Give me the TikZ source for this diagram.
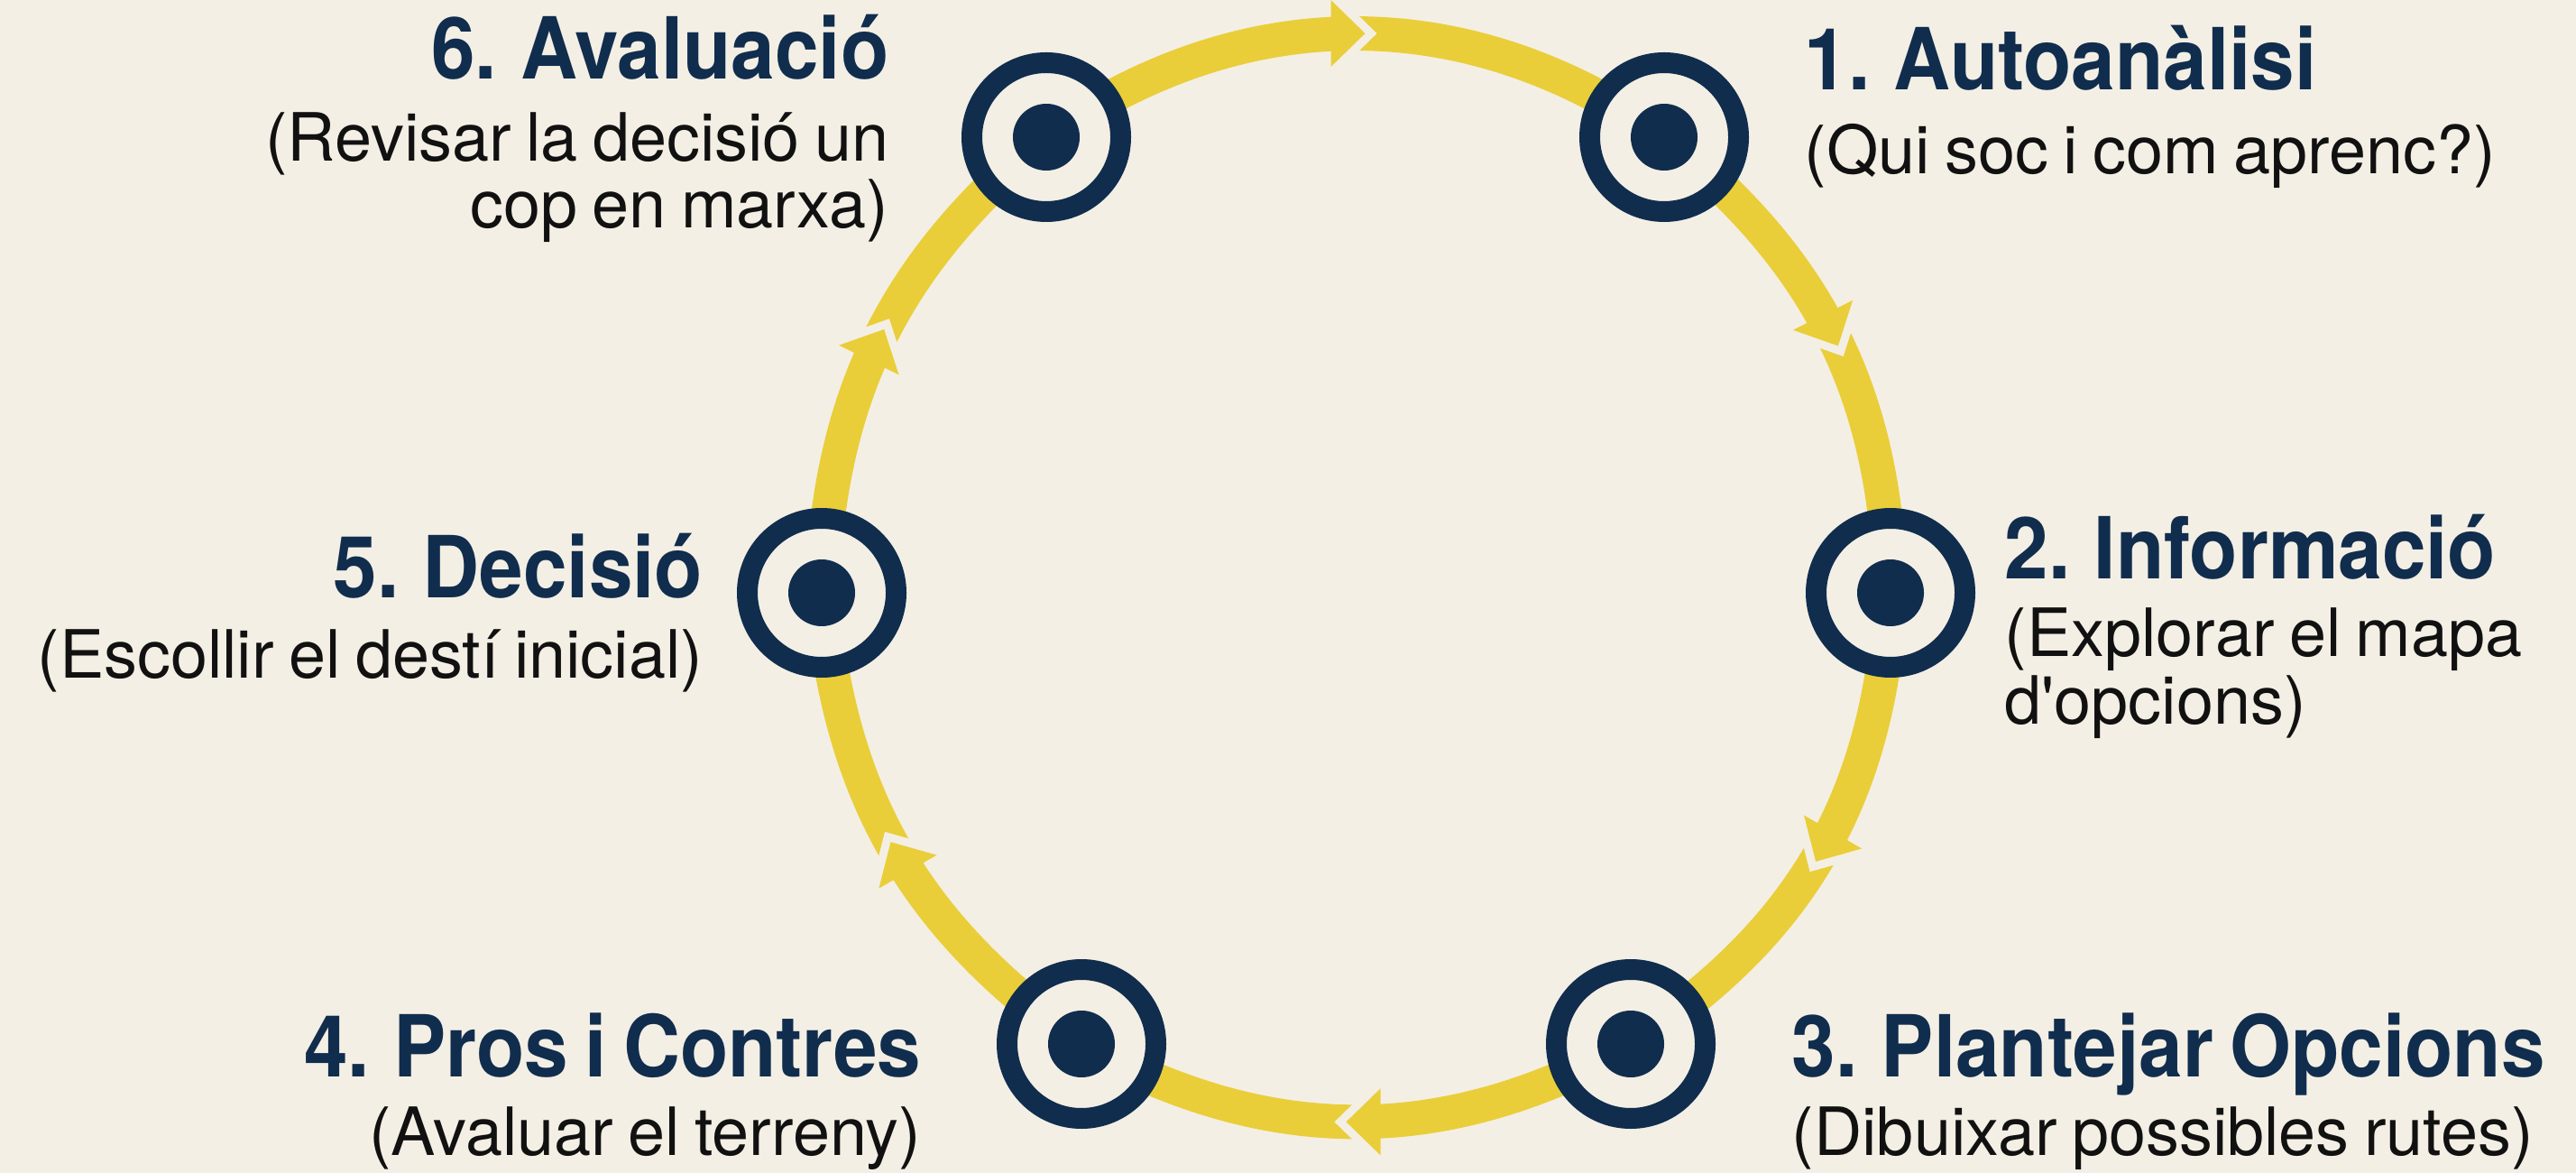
\documentclass[tikz,border=0pt]{standalone}
\usepackage{fontspec}
\setmainfont[WordSpace=0.8]{TeX Gyre Heros}
\newfontfamily\headfont[FakeStretch=0.92, WordSpace=0.75]{TeX Gyre Heros}
\usepackage{tikz}
\usetikzlibrary{positioning}
\usetikzlibrary{backgrounds}
\usetikzlibrary{decorations.markings}

\definecolor{paper}{RGB}{244,239,228}
\definecolor{navy}{RGB}{16,45,78}
\definecolor{gold}{RGB}{233,206,58}
\definecolor{ink}{RGB}{17,17,17}

\tikzset{
  stepnode/.style={circle, draw=navy, line width=0.23cm, fill=paper,
    minimum size=1.65cm, inner sep=0pt,
    path picture={\fill[navy] (path picture bounding box.center) circle (0.37);}},
  steptitle/.style={font=\headfont\fontsize{27}{31}\selectfont\bfseries, text=navy, inner sep=0pt},
  stepnote/.style={font=\fontsize{21}{21.3}\selectfont, text=ink, inner sep=0pt},
  track/.style={draw=gold, line width=0.38cm,
    postaction={decorate, decoration={markings, mark=at position #1 with {
      \fill[paper] (-0.14,0.37) -- (0.24,0) -- (-0.14,-0.37) -- cycle;
      \fill[gold] (-0.27,0.37) -- (0.11,0) -- (-0.27,-0.37) -- cycle;}}}},
  track/.default=0.5
}

\begin{document}
\begin{tikzpicture}
\useasboundingbox (0,0) rectangle (28.56,-13.00);

% the six steps
\node[stepnode] at (18.45,-1.52) (n1) {};
\node[stepnode] at (20.96,-6.57) (n2) {};
\node[stepnode] at (18.08,-11.57) (n3) {};
\node[stepnode] at (11.99,-11.57) (n4) {};
\node[stepnode] at (9.11,-6.57) (n5) {};
\node[stepnode] at (11.60,-1.52) (n6) {};

% labels
\node[steptitle, anchor=base west] at (20.00,-1.00) (t1) {1. Autoanàlisi};
\node[stepnote, anchor=base west] at (20.00,-1.93) (s1) {(Qui soc i com aprenc?)};
\node[steptitle, anchor=base west] at (22.22,-6.42) (t2) {2. Informació};
\node[stepnote, anchor=base west, align=left] at (22.22,-8.02) (s2) {(Explorar el mapa\\d\textquotesingle opcions)};
\node[steptitle, anchor=base west] at (19.86,-11.93) (t3) {3. Plantejar Opcions};
\node[stepnote, anchor=base west] at (19.86,-12.80) (s3) {(Dibuixar possibles rutes)};
\node[steptitle, anchor=base east] at (10.22,-11.93) (t4) {4. Pros i Contres};
\node[stepnote, anchor=base east] at (10.22,-12.80) (s4) {(Avaluar el terreny)};
\node[steptitle, anchor=base east] at (7.80,-6.63) (t5) {5. Decisió};
\node[stepnote, anchor=base east] at (7.80,-7.52) (s5) {(Escollir el destí inicial)};
\node[steptitle, anchor=base east] at (9.86,-0.88) (t6) {6. Avaluació};
\node[stepnote, anchor=base east, align=right] at (9.86,-2.53) (s6) {(Revisar la decisió un\\cop en marxa)};

% the cycle
\begin{scope}[on background layer]
\fill[paper] (0,0) rectangle (28.56,-13.00);
\draw[track] (n6.center) to[bend left=35] (n1.center);
\draw[track] (n1.center) to[bend left=25] (n2.center);
\draw[track] (n2.center) to[bend left=27] (n3.center);
\draw[track] (n3.center) to[bend left=29] (n4.center);
\draw[track] (n4.center) to[bend left=25] (n5.center);
\draw[track] (n5.center) to[bend left=24] (n6.center);
\end{scope}
\end{tikzpicture}
\end{document}
